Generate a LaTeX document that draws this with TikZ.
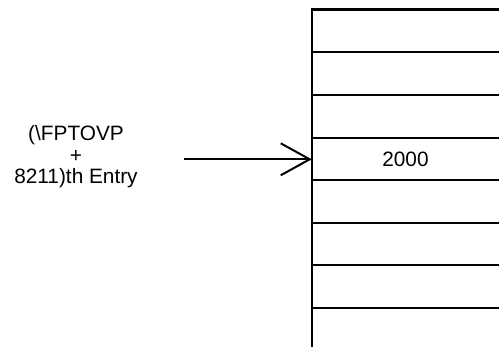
\documentclass[tikz,border=0pt]{standalone}
\usepackage{fontspec}
\setmainfont{Liberation Sans}
\usetikzlibrary{arrows.meta}
\begin{document}
\begin{tikzpicture}[x=1pt,y=-1pt,
  tline/.style={line width=2.5pt},
  lbl/.style={font=\fontsize{20.8}{22}\selectfont, inner sep=0pt, anchor=base},
  cellbox/.style={minimum width=187pt, minimum height=43pt, inner sep=0pt, draw=none, font=\fontsize{20.8}{22}\selectfont}]
\useasboundingbox (0,0) rectangle (499,347);
% table
\coordinate (ttop) at (312,8.5);
\coordinate (tbot) at (312,347);
\draw[tline] (ttop) -- (tbot);
\foreach \y/\n in {9.5/a,52/b,95/c,138/d,180/e,223/f,265/g,308/h}{
  \coordinate (l\n) at (312,\y);
  \coordinate (r\n) at (499,\y);
  \draw[tline] (l\n) -- (r\n);
}
\node[cellbox] (cell) at (405.5,159.3) {2000};
% label
\node[lbl] (lbl1) at (76,140.5) {(\textbackslash FPTOVP};
\node[lbl] (lbl2) at (76,163) {+};
\node[lbl] (lbl3) at (76,183.3) {8211)th Entry};
% arrow
\coordinate (astart) at (184,159.3);
\draw[line width=2pt, -{Straight Barb[length=29pt,width=32pt,line width=2pt]}] (astart) -- (cell.west);
\end{tikzpicture}
\end{document}
